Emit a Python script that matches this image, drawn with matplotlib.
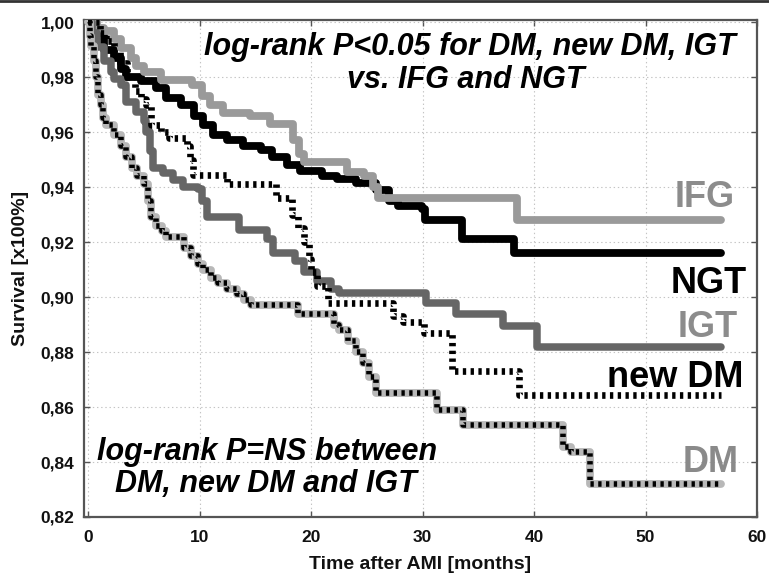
import matplotlib
matplotlib.use("Agg")
import matplotlib.pyplot as plt
from matplotlib.lines import Line2D
from matplotlib.ticker import FuncFormatter

plt.rcParams['font.family'] = ['Liberation Sans', 'DejaVu Sans']
plt.rcParams['lines.scale_dashes'] = False

# Kaplan-Meier steps (months, survival)
ngt_t = [0, 0.5, 1.4, 2.3, 2.9, 3.4, 4.7, 6.1, 7.0, 8.3, 9.5, 10.3, 11.2, 12.4, 13.9, 15.5,
         16.5, 17.8, 19.0, 21.0, 22.3, 24.0, 25.8, 27.0, 27.8, 29.9, 30.2, 33.5, 38.2, 56.8]
ngt_s = [1.0, 0.995, 0.990, 0.987, 0.983, 0.980, 0.9785, 0.976, 0.9725, 0.970, 0.966, 0.9625,
         0.959, 0.957, 0.955, 0.9535, 0.951, 0.948, 0.946, 0.944, 0.943, 0.9415, 0.939, 0.935,
         0.933, 0.932, 0.928, 0.921, 0.916, 0.916]

ifg_t = [0, 0.8, 1.4, 2.3, 2.9, 3.8, 4.3, 5.0, 6.5, 9.3, 10.2, 10.9, 12.1, 14.5, 16.3, 18.4,
         18.9, 19.3, 23.2, 24.7, 25.5, 26.0, 38.5, 56.8]
ifg_s = [1.0, 0.998, 0.9967, 0.994, 0.9905, 0.987, 0.984, 0.982, 0.979, 0.977, 0.973, 0.970,
         0.967, 0.966, 0.963, 0.957, 0.952, 0.949, 0.9455, 0.944, 0.940, 0.936, 0.928, 0.928]

igt_t = [0, 0.3, 0.8, 1.4, 2.0, 2.3, 2.9, 3.4, 4.3, 5.0, 5.2, 5.5, 5.8, 6.7, 7.6, 8.5, 9.8,
         10.2, 10.6, 13.5, 16.0, 16.6, 18.5, 19.3, 20.5, 21.8, 22.5, 30.3, 33.0, 37.2, 40.3, 56.8]
igt_s = [1.0, 0.996, 0.991, 0.986, 0.982, 0.9795, 0.977, 0.971, 0.9675, 0.964, 0.960, 0.953,
         0.947, 0.945, 0.9425, 0.940, 0.9395, 0.935, 0.929, 0.9244, 0.921, 0.916, 0.913, 0.909,
         0.906, 0.903, 0.9015, 0.898, 0.894, 0.8895, 0.882, 0.882]

newdm_t = [0, 1.0, 1.6, 2.3, 2.8, 3.5, 4.2, 4.7, 5.2, 5.6, 6.5, 7.2, 8.8, 9.1, 9.4, 12.4, 16.8,
           18.3, 18.8, 19.3, 19.8, 20.0, 20.5, 21.5, 27.3, 28.2, 30.1, 32.6, 38.6, 56.8]
newdm_s = [1.0, 0.996, 0.993, 0.989, 0.985, 0.980, 0.975, 0.972, 0.970, 0.9625, 0.960, 0.958,
           0.955, 0.950, 0.9445, 0.941, 0.936, 0.930, 0.925, 0.920, 0.914, 0.909, 0.904, 0.898,
           0.893, 0.891, 0.887, 0.873, 0.8645, 0.8645]

dm_t = [0, 0.1, 0.2, 0.5, 0.7, 0.9, 1.1, 1.3, 1.6, 2.3, 2.9, 3.4, 3.9, 4.4, 5.0, 5.3, 5.6, 6.1,
        6.6, 7.0, 8.6, 9.2, 9.8, 10.3, 11.0, 11.6, 12.4, 13.3, 14.0, 14.6, 18.8, 22.0, 22.5,
        23.3, 24.0, 24.6, 25.2, 25.8, 31.3, 33.6, 42.6, 43.3, 45.0, 56.8]
dm_s = [1.0, 0.995, 0.9915, 0.986, 0.980, 0.9735, 0.970, 0.965, 0.9625, 0.959, 0.955, 0.951,
        0.947, 0.944, 0.941, 0.935, 0.929, 0.926, 0.924, 0.922, 0.918, 0.915, 0.912, 0.910,
        0.907, 0.905, 0.903, 0.901, 0.899, 0.897, 0.894, 0.890, 0.888, 0.884, 0.880, 0.876,
        0.871, 0.865, 0.859, 0.8535, 0.8455, 0.8435, 0.832, 0.832]

x_ticks = [0, 10, 20, 30, 40, 50, 60]
y_ticks = [0.82, 0.84, 0.86, 0.88, 0.90, 0.92, 0.94, 0.96, 0.98, 1.00]

fig = plt.figure(figsize=(7.69, 5.75), dpi=100)
ax = fig.add_axes([84 / 769, 1 - 517 / 575, 673 / 769, 497 / 575])

kw = dict(where='post', solid_capstyle='round', solid_joinstyle='round')
ax.step(ngt_t, ngt_s, color='black', lw=5.6, zorder=3, **kw)
ax.step(ifg_t, ifg_s, color='#9a9a9a', lw=5.6, zorder=4, **kw)
ax.step(igt_t, igt_s, color='#666666', lw=5.4, zorder=5, **kw)
ax.step(dm_t, dm_s, color='#b8b8b8', lw=5.6, zorder=6, **kw)
ax.step(dm_t, dm_s, color='black', lw=4.0, dashes=(2.4, 3.2), zorder=7, where='post')
ax.step(newdm_t, newdm_s, color='black', lw=4.8, dashes=(2.4, 3.2), zorder=8, where='post')

ax.set_xlim(-0.4, 60)
ax.set_ylim(0.82, 1.0008)
ax.set_xticks(x_ticks)
ax.set_yticks(y_ticks)
ax.yaxis.set_major_formatter(FuncFormatter(lambda v, p: f"{v:.2f}".replace('.', ',')))
ax.tick_params(direction='in', length=4, width=1, colors='#555555', top=True, right=True,
               labelsize=12.5, labelcolor='#111111')
ax.tick_params(axis='x', pad=9)
ax.tick_params(axis='y', pad=7)
for lab in ax.get_xticklabels() + ax.get_yticklabels():
    lab.set_fontweight('bold')
ax.grid(True, linestyle=(0, (1, 2)), color='#c4c4c4', lw=0.8, zorder=0)
for sp in ax.spines.values():
    sp.set_color('#555555')
    sp.set_linewidth(1.6)

ax.set_xlabel('Time after AMI [months]', fontsize=14, fontweight='bold', color='#111111')
ax.set_ylabel('Survival [x100%]', fontsize=14, fontweight='bold', color='#111111')
ax.xaxis.set_label_coords(0.5, -0.078)
ax.yaxis.set_label_coords(-0.082, 0.5)

tkw = dict(fontsize=22, fontweight='bold', fontstyle='italic', ha='center', va='baseline',
           color='black', zorder=10)
ax.text(34.2, 0.988, 'log-rank P<0.05 for DM, new DM, IGT', **tkw)
ax.text(33.9, 0.976, 'vs. IFG and NGT', **tkw)
ax.text(16.0, 0.8407, 'log-rank P=NS between', **tkw)
ax.text(15.9, 0.8291, 'DM, new DM and IGT', **tkw)

lkw = dict(fontsize=26, fontweight='bold', ha='center', va='baseline', zorder=10)
ax.text(55.3, 0.9327, 'IFG', color='#8c8c8c', **lkw)
ax.text(55.7, 0.9015, 'NGT', color='black', **lkw)
ax.text(55.6, 0.8855, 'IGT', color='#8c8c8c', **lkw)
ax.text(52.7, 0.8673, 'new DM', color='black', **lkw)
ax.text(55.8, 0.8364, 'DM', color='#8a8a8a', **lkw)

fig.add_artist(Line2D([0, 1], [0.998, 0.998], color='#333333', lw=2, transform=fig.transFigure))

fig.savefig('out.png', dpi=100)
